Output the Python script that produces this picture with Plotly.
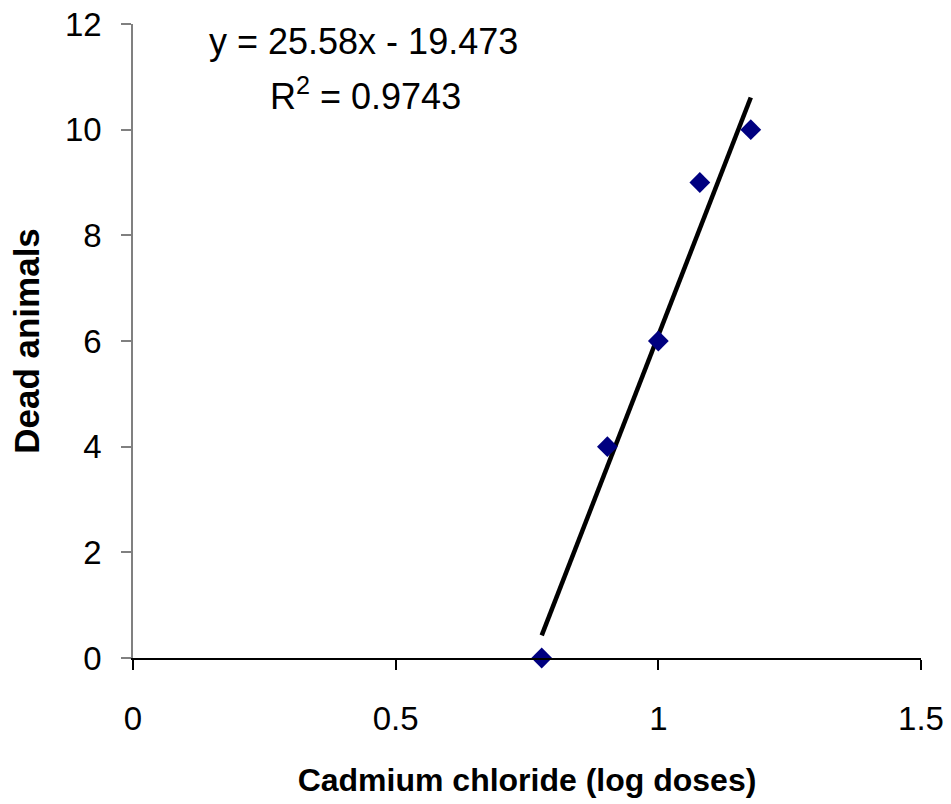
import numpy as np
import plotly.graph_objects as go

# Data
log_doses = [0.778, 0.903, 1.0, 1.079, 1.176]
dead_animals = [0, 4, 6, 9, 10]
slope = 25.58
intercept = -19.473
r_squared = 0.9743
x_ticks = [0, 0.5, 1, 1.5]
x_tick_labels = ["0", "0.5", "1", "1.5"]
y_ticks = [0, 2, 4, 6, 8, 10, 12]

trend_x = [min(log_doses), max(log_doses)]
trend_y = [slope * v + intercept for v in trend_x]

FONT = "Liberation Sans, Arial, sans-serif"

fig = go.Figure()
fig.add_trace(go.Scatter(
    x=trend_x, y=trend_y, mode="lines",
    line=dict(color="black", width=4.5),
    showlegend=False, hoverinfo="skip",
))
fig.add_trace(go.Scatter(
    x=log_doses, y=dead_animals, mode="markers",
    marker=dict(symbol="diamond", size=16, color="#000080",
                line=dict(width=0)),
    cliponaxis=False, showlegend=False,
))

fig.add_annotation(
    text=f"y = {slope}x - {abs(intercept)}",
    xref="paper", yref="paper", x=0.293, y=0.973,
    xanchor="center", yanchor="middle", showarrow=False,
    font=dict(family=FONT, size=36, color="black"),
)
fig.add_annotation(
    text=f"R<sup>2</sup> = {r_squared}",
    xref="paper", yref="paper", x=0.295, y=0.889,
    xanchor="center", yanchor="middle", showarrow=False,
    font=dict(family=FONT, size=36, color="black"),
)

fig.update_layout(
    width=951, height=804,
    margin=dict(l=133, r=30, t=24, b=146),
    paper_bgcolor="white", plot_bgcolor="white",
    font=dict(family=FONT, color="black"),
    xaxis=dict(
        range=[0, 1.5], tickvals=x_ticks, ticktext=x_tick_labels,
        automargin=False, ticklabeloverflow="allow",
        showgrid=False, zeroline=False,
        showline=True, linecolor="black", linewidth=2,
        ticks="outside", ticklen=10, tickwidth=2, tickcolor="black",
        tickfont=dict(family=FONT, size=33, color="black"),
        ticklabelstandoff=20,
        title=dict(text="<b>Cadmium chloride (log doses)</b>",
                   font=dict(family=FONT, size=32, color="black"),
                   standoff=33),
    ),
    yaxis=dict(
        range=[0, 12], tickvals=y_ticks,
        automargin=False, ticklabeloverflow="allow",
        showgrid=False, zeroline=False,
        showline=True, linecolor="#808080", linewidth=1.5,
        ticks="outside", ticklen=10, tickwidth=1.5, tickcolor="#808080",
        tickfont=dict(family=FONT, size=33, color="black"),
        ticklabelstandoff=13,
        title=dict(text="<b>Dead animals</b>",
                   font=dict(family=FONT, size=35, color="black"),
                   standoff=15),
    ),
)

fig.write_html(
    "out.html",
    config={"displayModeBar": False},
    post_script="document.body.style.margin='0';document.body.style.overflow='hidden';",
)
